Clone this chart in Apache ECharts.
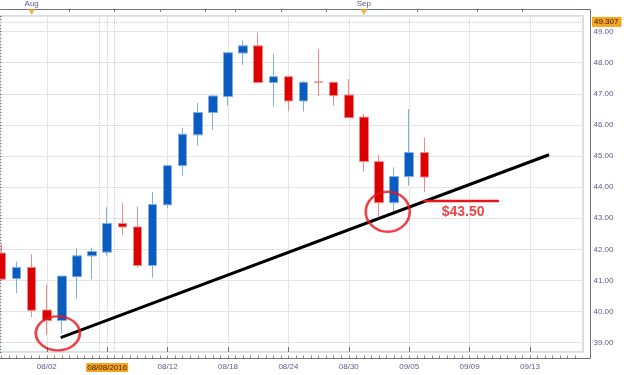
<!DOCTYPE html>
<html><head><meta charset="utf-8">
<script src="https://cdn.jsdelivr.net/npm/echarts@6/dist/echarts.min.js"></script>
<style>html,body{margin:0;padding:0;background:#fff}#c{width:624px;height:375px}</style>
</head><body><div id="c"></div>
<script>
// ---- data ----
const dates = ['07/28','07/29','08/01','08/02','08/03','08/04','08/05','08/08','08/09','08/10','08/11','08/12','08/15','08/16','08/17','08/18','08/19','08/22','08/23','08/24','08/25','08/26','08/29','08/30','08/31','09/01','09/02','09/05','09/06','09/07','09/08','09/09','09/10','09/11','09/12','09/13','09/14','09/15','09/16'];
const opens  = [41.88,41.06,41.42,40.05,39.71,41.12,41.79,41.91,42.83,42.72,41.48,43.43,44.69,45.68,46.40,46.91,48.31,48.54,47.36,47.55,46.77,47.38,47.37,46.96,46.25,44.82,43.50,44.34,45.11];
const closes = [41.04,41.42,40.04,39.71,41.14,41.79,41.93,42.83,42.72,41.48,43.44,44.69,45.70,46.40,46.93,48.32,48.54,47.36,47.55,46.77,47.37,47.37,46.94,46.23,44.82,43.50,44.34,45.11,44.324];
const lows   = [41.04,40.59,39.83,39.25,39.30,40.43,41.04,41.80,42.46,41.41,41.10,43.32,44.37,45.33,45.84,46.62,47.93,47.33,46.59,46.45,46.43,46.93,46.62,46.23,44.50,43.05,43.21,44.05,43.84];
const highs  = [42.16,41.60,41.84,40.86,41.14,42.04,42.05,43.35,43.48,43.37,43.84,44.72,45.91,46.70,46.95,48.34,48.71,48.97,48.28,47.57,47.41,48.43,47.37,47.47,46.35,45.04,44.64,46.51,45.59];
const labelIdx  = [3,7,11,15,19,23,27,31,35];
const labelText = ['08/02','08/08/2016','08/12','08/18','08/24','08/30','09/05','09/09','09/13'];
const highlightIdx = 7;
const monthIdx  = [2,24];
const monthText = ['Aug','Sep'];
const topTickIdx = [5,8,11,14,16,19,22,28,32,35];
const highPrice = 49.307;
const lastPrice = 44.324;
const trendLine = [[3.92,39.16],[36.26,45.04]];
const supportLine = [[27.93,43.55],[32.94,43.55]];
const supportText = '$43.50';
const supportTextPos = [29.15,43.21];
const circles = [[3.73,39.30],[25.58,43.21]];
const circleSizes = [[44,34],[44,40]];
const cursorBounds = [6.5,7.5];

// ---- chart ----
const FONT = 'Liberation Sans';
const axisColor = '#5b5b8f';
const N = dates.length;
const candleData = opens.map((o,i)=>[i, o, closes[i], lows[i], highs[i]]);
const halfSteps = [];
dates.forEach((d,i)=>{ halfSteps.push(d); if(i<N-1) halfSteps.push(d+'+'); });
const chart = echarts.init(document.getElementById('c'), null, {renderer:'canvas'});
chart.setOption({
  animation:false,
  backgroundColor:'#ffffff',
  grid:[
    {left:0, right:41, top:16, bottom:23, show:true, borderColor:'#c9d3e3', borderWidth:1.5, backgroundColor:'transparent'},
    {left:1.5, right:48.7, top:16, bottom:23, show:false}
  ],
  xAxis:[
    {type:'value', gridIndex:0, min:-0.0993, max:38.51, show:false},
    {type:'category', gridIndex:1, data:dates, boundaryGap:false, position:'bottom', offset:6,
     axisLine:{show:false}, splitLine:{show:false},
     axisTick:{show:true, inside:true, interval:(i)=>labelIdx.includes(i), length:5, lineStyle:{color:'#707070'}},
     axisLabel:{interval:(i)=>labelIdx.includes(i),
       formatter:(v,i)=>{const k=labelIdx.indexOf(i); if(k<0) return ''; return i===highlightIdx ? '{hl|'+labelText[k]+'}' : labelText[k];},
       fontSize:8, fontFamily:FONT, color:axisColor, margin:5,
       rich:{hl:{backgroundColor:'#f7a51f', color:'#3a2a10', fontSize:8, fontFamily:FONT, padding:[1,1,0,1]}}}},
    {type:'category', gridIndex:1, data:halfSteps, boundaryGap:false, position:'bottom', offset:6,
     axisLine:{show:false}, axisLabel:{show:false}, splitLine:{show:false},
     axisTick:{show:true, inside:true, interval:0, length:2.5, lineStyle:{color:'#8a8a8a'}}},
    {type:'category', gridIndex:1, data:halfSteps, boundaryGap:false, position:'top', offset:7,
     axisLine:{show:false}, splitLine:{show:false},
     axisTick:{show:true, inside:true, interval:(i)=>i%2===1 && topTickIdx.includes((i+1)/2), length:3, lineStyle:{color:'#808080'}},
     axisLabel:{interval:(i)=>i%2===0 && monthIdx.includes(i/2),
       formatter:(v,i)=>{const k=monthIdx.indexOf(i/2); return k<0?'':monthText[k];},
       fontSize:8, fontFamily:FONT, color:axisColor, margin:1}}
  ],
  yAxis:[
    {type:'value', gridIndex:0, position:'right', offset:7.5, min:38.7, max:49.5, minInterval:1, maxInterval:1, splitNumber:11, scale:true,
     axisLine:{show:false},
     axisTick:{show:true, inside:true, length:8, lineStyle:{color:'#707070'}},
     minorTick:{show:true, splitNumber:10, length:3, lineStyle:{color:'#8a8a8a'}},
     axisLabel:{formatter:(v)=>v.toFixed(2), showMinLabel:false, showMaxLabel:false, fontSize:8, fontFamily:FONT, color:axisColor, margin:3},
     splitLine:{show:true, lineStyle:{color:'#e4e4e4', width:1}}},
    {type:'value', gridIndex:1, min:0, max:1, show:false}
  ],
  graphic:[{type:'polyline', silent:true, z:10,
    shape:{points:[[-2,9.5],[590.5,9.5],[590.5,358.5],[-2,358.5]]},
    style:{stroke:'#707070', lineWidth:1, fill:null}}],
  series:[
    {type:'line', xAxisIndex:0, yAxisIndex:0, data:[], z:0, silent:true,
     markLine:{silent:true, z:0, symbol:['none','none'], label:{show:false},
       data:[...labelIdx.map(i=>({xAxis:i, lineStyle:{color:'#e4e4e4', width:1, type:'solid'}})),
             ...cursorBounds.map(x=>({xAxis:x, lineStyle:{color:'#cfcfcf', width:1, type:'dotted'}}))]}},
    {type:'candlestick', xAxisIndex:0, yAxisIndex:0, data:candleData, encode:{x:0, y:[1,2,3,4]}, barWidth:9, z:3,
     itemStyle:{color:'#0a5cc0', color0:'#dc0000', borderColor:'#7eaee2', borderColor0:'#f08888', borderWidth:1},
     markLine:{silent:true, z:1, symbol:['none','none'],
       data:[
        {yAxis:highPrice, lineStyle:{color:'#cccccc', type:'dotted', width:1},
         label:{show:true, position:'end', distance:9, formatter:highPrice.toFixed(3), backgroundColor:'#f7a51f', color:'#2a2010', fontSize:8, fontFamily:FONT, padding:[1,3,1,2]}},
        {yAxis:lastPrice, lineStyle:{opacity:0},
         label:{show:true, position:'end', distance:9, formatter:lastPrice.toFixed(3), backgroundColor:'#62c6f2', color:'#10304f', fontSize:8, fontFamily:FONT, padding:[1,3,1,2]}}
       ]}},
    {type:'line', xAxisIndex:0, yAxisIndex:0, data:trendLine, symbol:'none', z:5, silent:true,
     lineStyle:{color:'#000000', width:3}},
    {type:'line', xAxisIndex:0, yAxisIndex:0, data:supportLine, symbol:'none', z:5, silent:true,
     lineStyle:{color:'#e8141c', width:2.5}},
    {type:'scatter', xAxisIndex:0, yAxisIndex:0, data:[supportTextPos], symbolSize:0, z:6, silent:true,
     label:{show:true, position:'right', distance:0, formatter:supportText, color:'#e8141c', fontSize:14, fontWeight:'bold', fontFamily:FONT}},
    {type:'scatter', xAxisIndex:0, yAxisIndex:0, data:circles, symbol:'circle', z:6, silent:true,
     symbolSize:(v,p)=>circleSizes[p.dataIndex],
     itemStyle:{color:'rgba(0,0,0,0)', borderColor:'#e8141c', borderWidth:2.5}},
    {type:'scatter', xAxisIndex:0, yAxisIndex:0, clip:false, data:monthIdx.map(i=>[i,49.63]), symbol:'triangle', symbolRotate:180, symbolSize:[7,6], z:11, silent:true,
     itemStyle:{color:'#f39a1e'}}
  ]
});
</script></body></html>
